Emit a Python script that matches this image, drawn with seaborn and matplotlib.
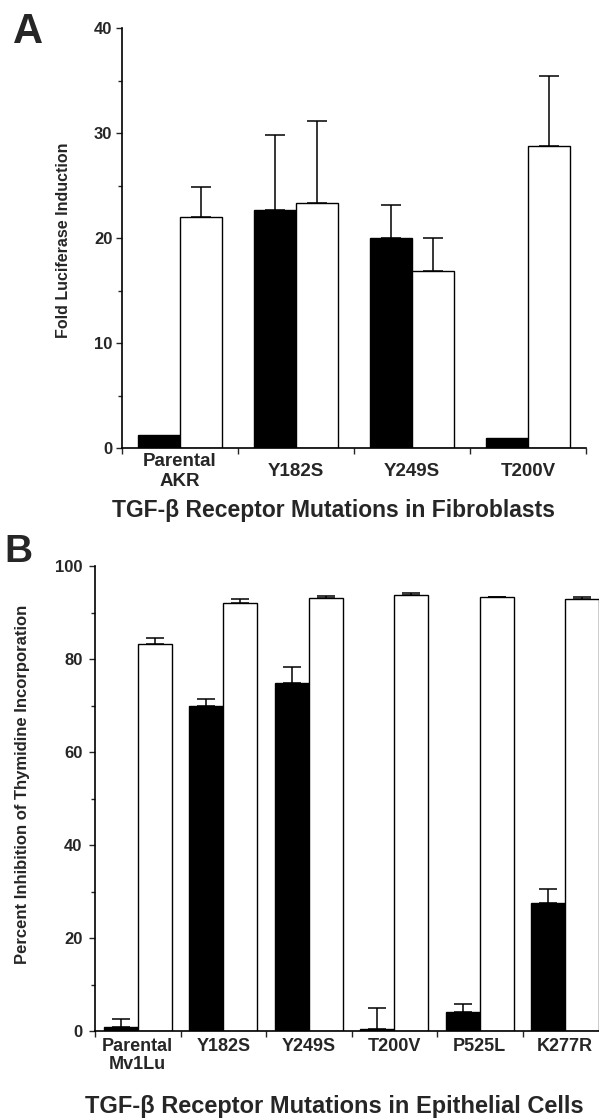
import matplotlib
matplotlib.use("Agg")
import matplotlib.pyplot as plt
from matplotlib.ticker import MultipleLocator, FixedLocator
import seaborn as sns
import pandas as pd

# ---------------- data ----------------
treatments = ["-TGF-\u03b2", "+TGF-\u03b2"]

fib_categories = ["Parental\nAKR", "Y182S", "Y249S", "T200V"]
fib_minus = [1.2, 22.7, 20.0, 1.0]
fib_minus_err = [0.0, 7.1, 3.1, 0.0]
fib_plus = [22.0, 23.3, 16.9, 28.8]
fib_plus_err = [2.9, 7.8, 3.1, 6.6]

epi_categories = ["Parental\nMv1Lu", "Y182S", "Y249S", "T200V", "P525L", "K277R"]
epi_minus = [0.8, 70.0, 74.9, 0.5, 4.1, 27.5]
epi_minus_err = [1.8, 1.4, 3.3, 4.4, 1.7, 3.1]
epi_plus = [83.3, 92.1, 93.2, 93.7, 93.3, 92.9]
epi_plus_err = [1.2, 0.9, 0.4, 0.4, 0.1, 0.4]

sns.set_theme(style="ticks")
plt.rcParams["font.family"] = ["Liberation Sans", "DejaVu Sans"]
plt.rcParams["font.weight"] = "bold"

W, H = 599, 1119
fig = plt.figure(figsize=(W / 100, H / 100), dpi=100)


def px_axes(left, right, top, bottom):
    return fig.add_axes([left / W, 1 - bottom / H, (right - left) / W, (bottom - top) / H])


def panel(ax, cats, minus, minus_err, plus, plus_err, width, ymax, ymajor, yminor,
          xtick_fs, ytick_fs, capsize, xpad, xva, linespacing, ypad):
    df = pd.DataFrame({
        "mutation": cats * 2,
        "treatment": [treatments[0]] * len(cats) + [treatments[1]] * len(cats),
        "value": list(minus) + list(plus),
    })
    sns.barplot(data=df, x="mutation", y="value", hue="treatment", order=cats,
                hue_order=treatments, palette=["black", "white"], saturation=1,
                edgecolor="black", linewidth=1.0, width=width, gap=0,
                errorbar=None, legend=False, ax=ax)
    for cont, errs in zip(ax.containers, [minus_err, plus_err]):
        for bar, e in zip(cont, errs):
            if e > 0:
                x = bar.get_x() + bar.get_width() / 2
                h = bar.get_height()
                ax.errorbar([x], [h], yerr=[[0], [e]], color="black", lw=1.1,
                            capsize=capsize, capthick=1.1, zorder=5)
    n = len(cats)
    ax.set_xlim(-0.5, n - 0.5)
    ax.set_ylim(0, ymax)
    ax.yaxis.set_major_locator(MultipleLocator(ymajor))
    ax.yaxis.set_minor_locator(MultipleLocator(yminor))
    ax.xaxis.set_minor_locator(FixedLocator([i + 0.5 for i in range(-1, n)]))
    ax.tick_params(axis="x", which="major", length=0, pad=xpad, labelsize=xtick_fs)
    ax.tick_params(axis="x", which="minor", length=4, width=1, direction="out")
    ax.tick_params(axis="y", which="major", length=4, width=1, labelsize=ytick_fs,
                   pad=ypad)
    ax.tick_params(axis="y", which="minor", length=3, width=1)
    for lab in ax.get_xticklabels():
        lab.set_fontweight("bold")
        lab.set_linespacing(linespacing)
        lab.set_verticalalignment(xva)
    for lab in ax.get_yticklabels():
        lab.set_fontweight("bold")
    sns.despine(ax=ax)
    for s in ("left", "bottom"):
        ax.spines[s].set_linewidth(1.2)
        ax.spines[s].set_color("black")


# ---------------- panel A ----------------
axA = px_axes(122, 586, 28, 448)
panel(axA, fib_categories, fib_minus, fib_minus_err, fib_plus, fib_plus_err,
      width=0.724, ymax=40, ymajor=10, yminor=5, xtick_fs=13.5, ytick_fs=12,
      capsize=7.5, xpad=17, xva="center", linespacing=1.25, ypad=3)
axA.set_ylabel("Fold Luciferase Induction", fontsize=11.5, fontweight="bold")
axA.yaxis.label.set_verticalalignment("center")
axA.yaxis.set_label_coords((63 - 122) / 464, 0.495)
axA.set_xlabel("TGF-\u03b2 Receptor Mutations in Fibroblasts", fontsize=16.5,
               fontweight="bold")
axA.xaxis.set_label_coords((333 - 122) / 464, (448 - 499) / 420)

# ---------------- panel B ----------------
axB = px_axes(95, 608, 566, 1031)
panel(axB, epi_categories, epi_minus, epi_minus_err, epi_plus, epi_plus_err,
      width=0.795, ymax=100, ymajor=20, yminor=10, xtick_fs=13, ytick_fs=12,
      capsize=6.5, xpad=5, xva="top", linespacing=1.1, ypad=5)
axB.set_ylabel("Percent Inhibition of Thymidine Incorporation", fontsize=12,
               fontweight="bold")
axB.yaxis.label.set_verticalalignment("center")
axB.yaxis.set_label_coords((23 - 95) / 513, (1031 - 784) / 465)
axB.set_xlabel("TGF-\u03b2 Receptor Mutations in Epithelial Cells", fontsize=17,
               fontweight="bold")
axB.xaxis.set_label_coords((334 - 95) / 513, (1031 - 1095) / 465)

fig.text(13 / W, 1 - 43 / H, "A", fontsize=30, fontweight="bold", va="baseline")
fig.text(4 / W, 1 - 562 / H, "B", fontsize=28, fontweight="bold", va="baseline")

fig.savefig("out.png", dpi=100)
